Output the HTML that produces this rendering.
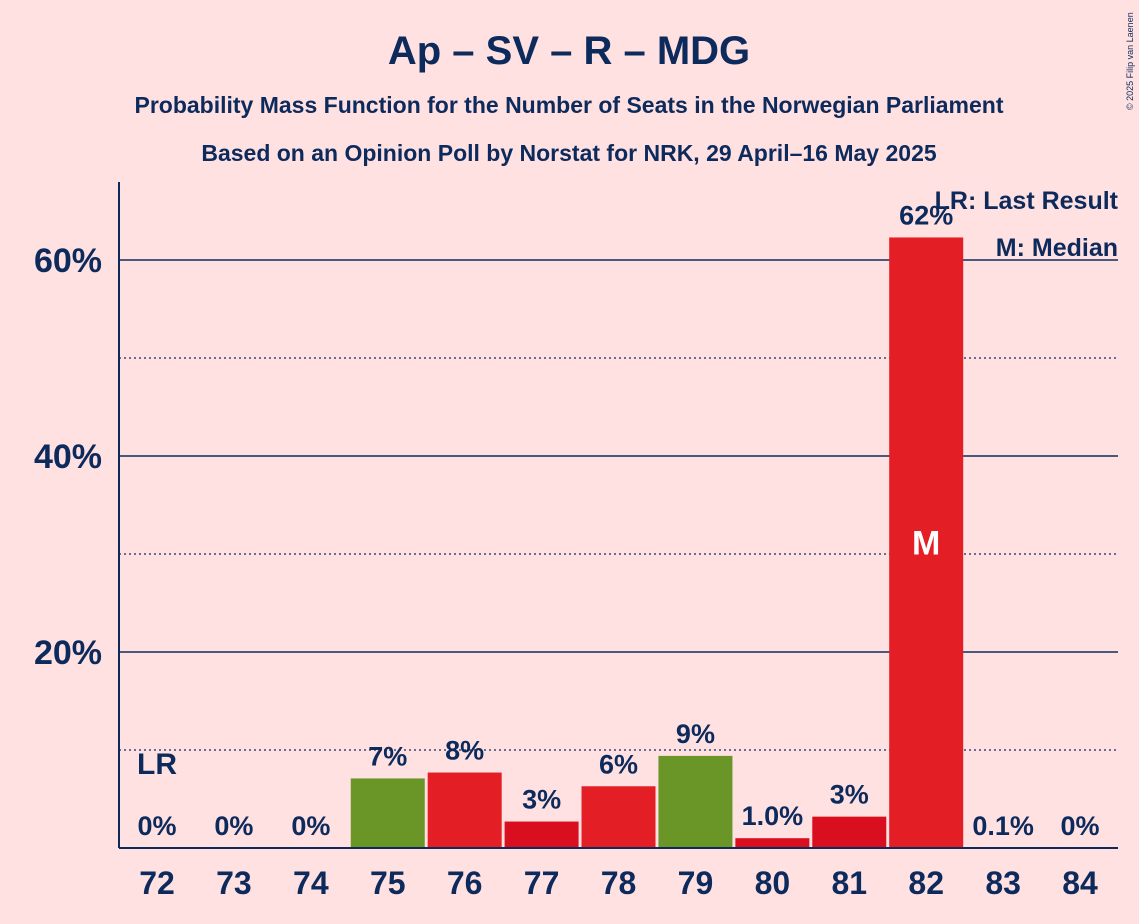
<!DOCTYPE html>
<html><head><meta charset="utf-8"><style>
body{margin:0;background:#ffe1e1;font-family:"Liberation Sans",sans-serif;}
svg{display:block}
</style></head><body>
<svg id="chart" width="1139" height="924" xmlns="http://www.w3.org/2000/svg">
<rect width="1139" height="924" fill="#ffe1e1"/>
<text x="569" y="64" text-anchor="middle" font-size="40" font-weight="bold" fill="#0d2a5c">Ap – SV – R – MDG</text>
<text x="569" y="113" text-anchor="middle" font-size="23" font-weight="bold" fill="#0d2a5c">Probability Mass Function for the Number of Seats in the Norwegian Parliament</text>
<text x="569" y="161" text-anchor="middle" font-size="23" font-weight="bold" fill="#0d2a5c">Based on an Opinion Poll by Norstat for NRK, 29 April–16 May 2025</text>
<text x="1133" y="110" font-size="9" fill="#0d2a5c" transform="rotate(-90 1133 110)">© 2025 Filip van Laenen</text>
<g id="grid"></g>
<g id="bars"></g>
<line x1="119" y1="182" x2="119" y2="848" stroke="#0d2a5c" stroke-width="2"/>
<line x1="119" y1="848" x2="1118" y2="848" stroke="#0d2a5c" stroke-width="2"/>
<text x="1118" y="209" text-anchor="end" font-size="25" font-weight="bold" fill="#0d2a5c">LR: Last Result</text>
<text x="1118" y="256" text-anchor="end" font-size="25" font-weight="bold" fill="#0d2a5c">M: Median</text>
</svg>
<script>
const seats=[72,73,74,75,76,77,78,79,80,81,82,83,84];
const values=[0,0,0,7.1,7.7,2.7,6.3,9.4,1.0,3.2,62.3,0.1,0];
const labels=["0%","0%","0%","7%","8%","3%","6%","9%","1.0%","3%","62%","0.1%","0%"];
const colors=["#e31e24","#e31e24","#e31e24","#6a9628","#e31e24","#d90f20","#e31e24","#6a9628","#d90f20","#d90f20","#e31e24","#e31e24","#e31e24"];
const yTicks=[20,40,60];
const yDotted=[10,30,50];
const lastResult=72, median=82;
const NS="http://www.w3.org/2000/svg";
const y=v=>848-v*9.8;
const x=s=>157+(s-72)*76.92;
function mk(t,a){const e=document.createElementNS(NS,t);for(const k in a)e.setAttribute(k,a[k]);return e;}
const g=document.getElementById('grid'),b=document.getElementById('bars');
yDotted.forEach(v=>{const l=mk('line',{x1:119,x2:1118,y1:y(v),y2:y(v),stroke:'#0d2a5c','stroke-width':1.3,'stroke-dasharray':'2,3'});

g.appendChild(l);});
const bg=mk('rect',{x:965,y:182,width:160,height:74,fill:'#ffe1e1'});

g.appendChild(bg);
yTicks.forEach(v=>{const l=mk('line',{x1:119,x2:1118,y1:y(v),y2:y(v),stroke:'#0d2a5c','stroke-width':1.5});

g.appendChild(l);
const t=mk('text',{x:102,y:y(v)+12,'text-anchor':'end','font-size':34,'font-weight':'bold',fill:'#0d2a5c'});t.textContent=v+'%';

g.appendChild(t);});
seats.forEach((s,i)=>{const v=values[i],cx=x(s);
if(v>0){const r=mk('rect',{x:cx-37,y:y(v),width:74,height:848-y(v),fill:colors[i]});

b.appendChild(r);}
const t=mk('text',{x:cx,y:(v>0.5?y(v):848)-13,'text-anchor':'middle','font-size':27,'font-weight':'bold',fill:'#0d2a5c'});t.textContent=labels[i];

b.appendChild(t);
const xl=mk('text',{x:cx,y:894,'text-anchor':'middle','font-size':32,'font-weight':'bold',fill:'#0d2a5c'});xl.textContent=s;

b.appendChild(xl);
if(s===median){const m=mk('text',{x:cx,y:y(v/2)+12,'text-anchor':'middle','font-size':34,'font-weight':'bold',fill:'#fff'});m.textContent='M';

b.appendChild(m);}
if(s===lastResult){const m=mk('text',{x:cx,y:774,'text-anchor':'middle','font-size':30,'font-weight':'bold',fill:'#0d2a5c'});m.textContent='LR';

b.appendChild(m);}
});
</script>
</body></html>
